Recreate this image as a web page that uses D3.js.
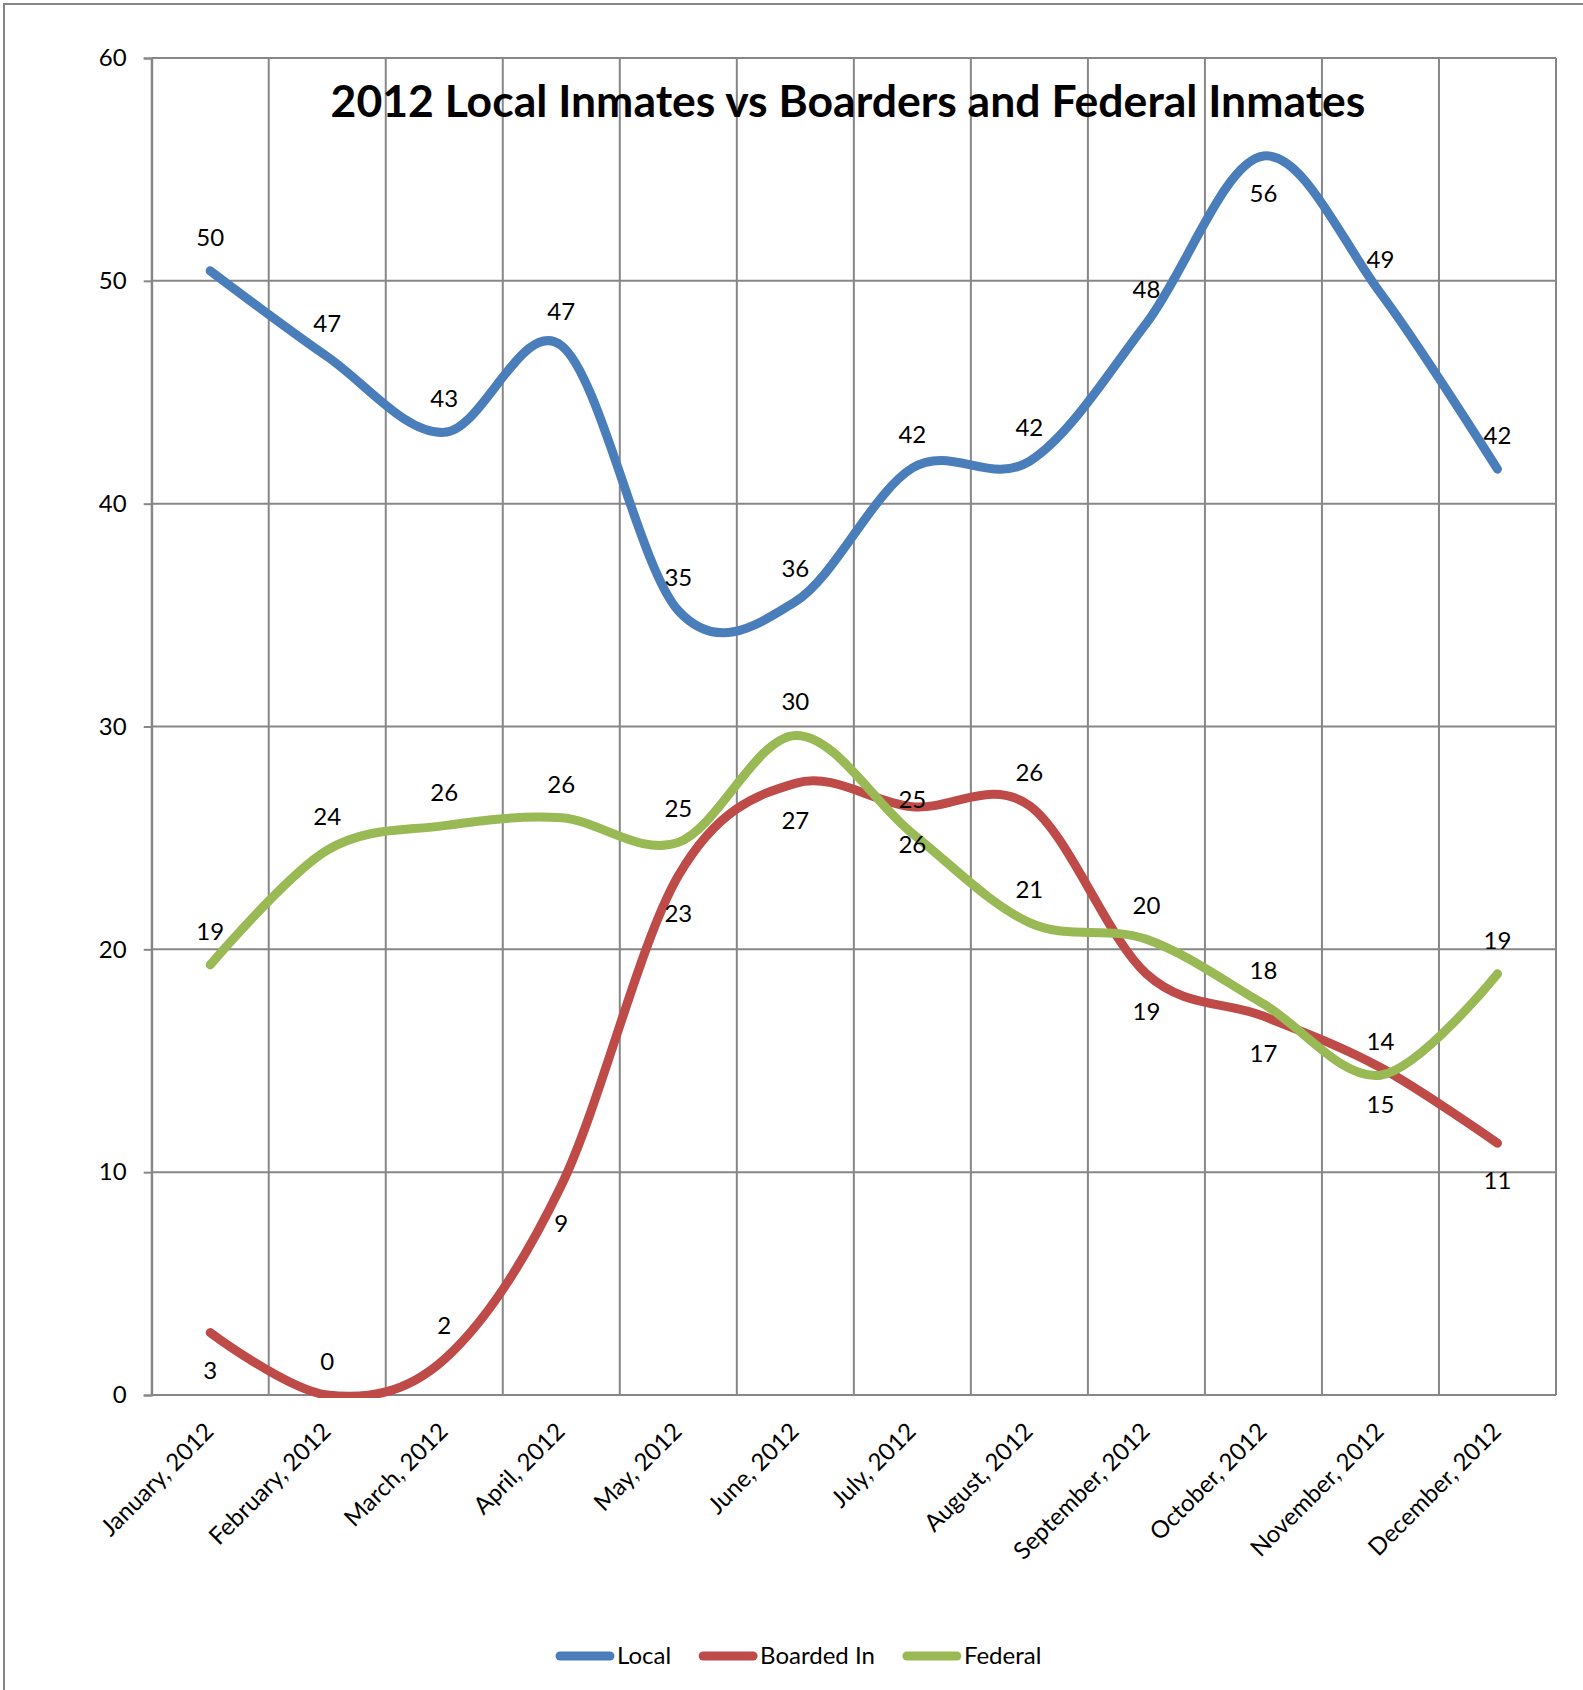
<!DOCTYPE html>
<meta charset='utf-8'>
<style>
  body { margin:0; background:#fff; }
  text { font-family:Lato, 'Open Sans', sans-serif; fill:#000; }
  .grid line { stroke:#878787; stroke-width:2px; }
  .axis path, .axis line { stroke:#878787; stroke-width:2px; }
  .series { fill:none; stroke-width:9px; stroke-linecap:round; stroke-linejoin:round; }
</style>
<body>
<script src='https://d3js.org/d3.v7.min.js'></script>
<script>

  var width = 1583;
  var height = 1690;

  var months = ['January, 2012', 'February, 2012', 'March, 2012', 'April, 2012',
    'May, 2012', 'June, 2012', 'July, 2012', 'August, 2012',
    'September, 2012', 'October, 2012', 'November, 2012', 'December, 2012'];
  var local     = [50.45, 46.6, 43.2, 47.1, 35.2, 35.6, 41.6, 41.9, 48.1, 55.6, 49.45, 41.55];
  var boardedIn = [2.8, 0, 1.6, 9.4, 23.3, 27.45, 26.4, 26.45, 18.9, 17.0, 14.7, 11.3];
  var federal   = [19.3, 24.45, 25.55, 25.9, 24.8, 29.6, 25.2, 21.2, 20.45, 17.55, 14.35, 18.9];
  var yTicks = [0, 10, 20, 30, 40, 50, 60];
  // months whose data label sits under the point instead of over it
  var localBelow = [9];
  var boardedBelow = [0, 3, 4, 5, 6, 8, 9, 10, 11];
  var federalBelow = [];

  var series = [
    {name:'Local', values:local, color:'#4a7ebb', below:localBelow},
    {name:'Boarded In', values:boardedIn, color:'#be4b48', below:boardedBelow},
    {name:'Federal', values:federal, color:'#98b954', below:federalBelow}
  ];

  var margin = {left:151.7, right:27, top:58, bottom:295};

  var svg = d3.select('body').append('svg')
    .attr('width', width)
    .attr('height', height);

  // chart border
  svg.append('rect')
    .attr('x', 4).attr('y', 4)
    .attr('width', width + 20).attr('height', height + 20)
    .attr('fill', 'none')
    .attr('stroke', '#878787')
    .attr('stroke-width', 2);

  var x = d3.scaleBand()
    .domain(months)
    .range([margin.left, width - margin.right]);

  var y = d3.scaleLinear()
    .domain([0, 60])
    .range([height - margin.bottom, margin.top]);

  var cx = function(i) { return x(months[i]) + x.bandwidth() / 2; };

  // gridlines
  var grid = svg.append('g').attr('class', 'grid');
  grid.selectAll('.h').data(yTicks).enter().append('line')
    .attr('x1', margin.left).attr('x2', width - margin.right)
    .attr('y1', d => y(d)).attr('y2', d => y(d));
  grid.selectAll('.v').data(months.concat(['end'])).enter().append('line')
    .attr('x1', (d, i) => margin.left + i * x.bandwidth())
    .attr('x2', (d, i) => margin.left + i * x.bandwidth())
    .attr('y1', y(60)).attr('y2', y(0));

  // y axis
  var yAxis = svg.append('g')
    .attr('class', 'axis')
    .attr('transform', 'translate(' + margin.left + ',0)')
    .call(d3.axisLeft(y).tickValues(yTicks).tickSize(8).tickPadding(17));
  yAxis.selectAll('text').style('font-size', '24px');

  // x axis labels
  var xAxis = svg.append('g')
    .attr('class', 'axis')
    .attr('transform', 'translate(0,' + y(0) + ')')
    .call(d3.axisBottom(x).tickSize(0));
  xAxis.select('.domain').remove();
  xAxis.selectAll('text')
    .style('font-size', '24px')
    .attr('text-anchor', 'end')
    .attr('dy', null)
    .attr('y', null)
    .attr('transform', 'translate(5,38) rotate(-45)');

  // lines
  var line = d3.line()
    .x((d, i) => cx(i))
    .y(d => y(d))
    .curve(d3.curveCardinal.tension(0));

  svg.append('clipPath').attr('id', 'plot')
    .append('rect')
    .attr('x', 0).attr('y', 0)
    .attr('width', width).attr('height', y(0) + 3);

  svg.selectAll('.series').data(series).enter().append('path')
    .attr('class', 'series')
    .attr('clip-path', 'url(#plot)')
    .attr('stroke', d => d.color)
    .attr('d', d => line(d.values));

  // data labels
  series.forEach(function(s) {
    svg.append('g').selectAll('text').data(s.values).enter().append('text')
      .attr('x', (d, i) => cx(i))
      .attr('y', (d, i) => s.below.indexOf(i) >= 0 ? y(d) + 46 : y(d) - 25)
      .attr('text-anchor', 'middle')
      .style('font-size', '24px')
      .text(d => d3.format('.0f')(d));
  });

  // title
  var title = svg.append('text')
    .attr('x', 848)
    .attr('y', 117)
    .attr('text-anchor', 'middle')
    .style('font-weight', 'bold')
    .style('font-size', '40px')
    .text('2012 Local Inmates vs Boarders and Federal Inmates');
  var tw = title.node().getComputedTextLength();
  title.style('font-size', (40 * 1035 / tw) + 'px');

  // legend
  var lx = 560;
  series.forEach(function(s) {
    svg.append('line')
      .attr('x1', lx).attr('x2', lx + 50)
      .attr('y1', 1656).attr('y2', 1656)
      .attr('stroke', s.color)
      .attr('stroke-width', 9)
      .attr('stroke-linecap', 'round');
    var t = svg.append('text')
      .attr('x', lx + 57)
      .attr('y', 1664)
      .style('font-size', '24px')
      .text(s.name);
    lx += 57 + t.node().getComputedTextLength() + 32;
  });

</script>
</body>
